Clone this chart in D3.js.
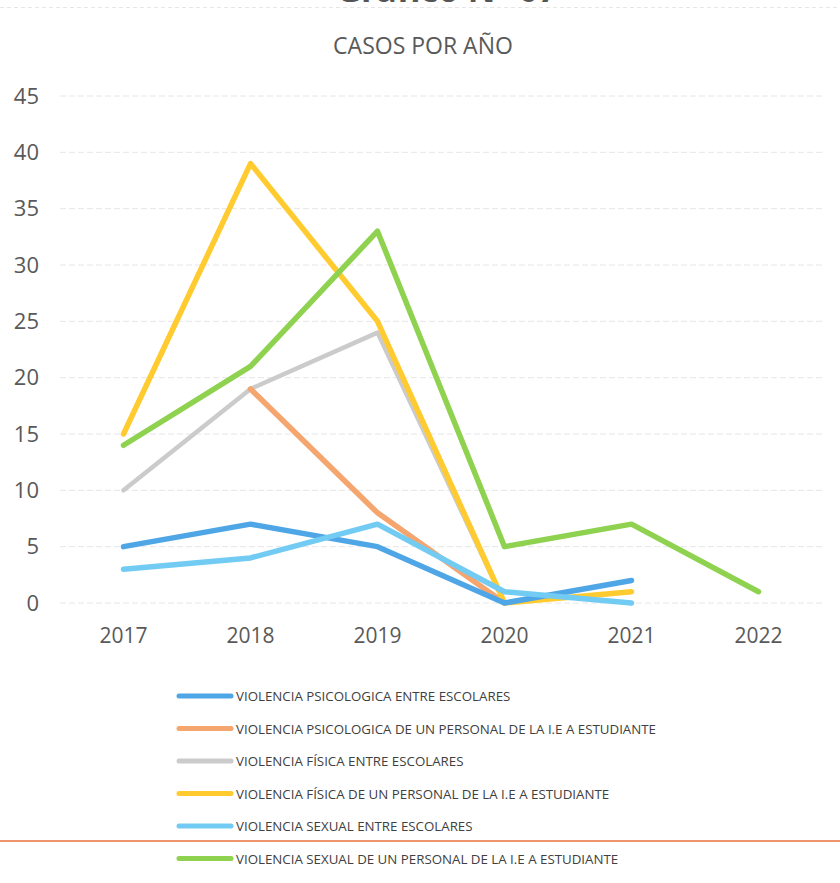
<!DOCTYPE html>
<html>
<head>
<meta charset="utf-8">
<script src="https://cdn.jsdelivr.net/npm/d3@7"></script>
<style>
  html, body { margin: 0; padding: 0; background: #fff; }
  svg { display: block; }
  text { font-family: "Open Sans", sans-serif; fill: #595959; }
</style>
</head>
<body>
<svg id="chart" width="840" height="883"></svg>
<script>
const years = ["2017", "2018", "2019", "2020", "2021", "2022"];
const yTicks = [0, 5, 10, 15, 20, 25, 30, 35, 40, 45];
const seriesNames = [
  "VIOLENCIA PSICOLOGICA ENTRE ESCOLARES",
  "VIOLENCIA PSICOLOGICA DE UN PERSONAL DE LA I.E A ESTUDIANTE",
  "VIOLENCIA FÍSICA ENTRE ESCOLARES",
  "VIOLENCIA FÍSICA DE UN PERSONAL DE LA I.E A ESTUDIANTE",
  "VIOLENCIA SEXUAL ENTRE ESCOLARES",
  "VIOLENCIA SEXUAL DE UN PERSONAL DE LA I.E A ESTUDIANTE"
];
const psicoEscolares = [5, 7, 5, 0, 2, null];
const psicoPersonal = [null, 19, 8, 0, null, null];
const fisicaEscolares = [10, 19, 24, 0, null, null];
const fisicaPersonal = [15, 39, 25, 0, 1, null];
const sexualEscolares = [3, 4, 7, 1, 0, null];
const sexualPersonal = [14, 21, 33, 5, 7, 1];
const seriesColors = ["#4FA6E6", "#F5A56E", "#CBCBCB", "#FFCB2F", "#72CBF2", "#8ED24F"];

const seriesValues = [psicoEscolares, psicoPersonal, fisicaEscolares, fisicaPersonal, sexualEscolares, sexualPersonal];
const drawOrder = [2, 1, 3, 5, 0, 4];

const svg = d3.select("#chart");
const W = 840;

// heading of the page (cut off at the top, as in the scanned page)
svg.append("text").attr("x", 447).attr("y", 2).attr("text-anchor", "middle")
  .style("font-size", "34px").style("font-weight", "bold").style("fill", "#555")
  .text("Gráfico N° 07");
svg.append("line").attr("x1", 0).attr("x2", W).attr("y1", 7.5).attr("y2", 7.5)
  .attr("stroke", "#e6e6e6").attr("stroke-width", 1).attr("stroke-dasharray", "4 3");

svg.append("text").attr("x", 423).attr("y", 54).attr("text-anchor", "middle")
  .style("font-size", "23px").text("CASOS POR AÑO");

const x = d3.scaleBand().domain(years).range([60, 822]);
const y = d3.scaleLinear().domain([0, 45]).range([603, 96]);

// gridlines
svg.append("g").selectAll("line").data(yTicks).join("line")
  .attr("x1", 60).attr("x2", 822)
  .attr("y1", d => y(d)).attr("y2", d => y(d))
  .attr("stroke", "#e6e6e6").attr("stroke-width", 1).attr("stroke-dasharray", "6 3");

// y axis
const yAxis = svg.append("g").attr("transform", "translate(39,0)")
  .call(d3.axisLeft(y).tickValues(yTicks).tickSize(0).tickPadding(0));
yAxis.select(".domain").remove();
yAxis.selectAll("text").style("font-size", "22px").style("fill", "#595959")
  .style("font-family", "'Open Sans', sans-serif");

// x axis
const xAxis = svg.append("g").attr("transform", "translate(0,628)")
  .call(d3.axisBottom(x).tickSize(0).tickPadding(0));
xAxis.select(".domain").remove();
xAxis.selectAll("text").style("font-size", "21px").style("fill", "#595959")
  .style("font-family", "'Open Sans', sans-serif");

const line = d3.line()
  .defined(d => d.v !== null)
  .x(d => x(d.year) + x.bandwidth() / 2)
  .y(d => y(d.v));

drawOrder.forEach(i => {
  const pts = years.map((yr, j) => ({ year: yr, v: seriesValues[i][j] }));
  svg.append("path").datum(pts)
    .attr("d", line)
    .attr("fill", "none")
    .attr("stroke", seriesColors[i])
    .attr("stroke-width", i === 2 ? 4.5 : 5.5)
    .attr("stroke-linejoin", "round")
    .attr("stroke-linecap", "round");
});

// legend
const legendY = [696, 728.5, 761, 793.5, 826, 858.5];
const lg = svg.append("g");
seriesNames.forEach((name, i) => {
  lg.append("line").attr("x1", 179).attr("x2", 231)
    .attr("y1", legendY[i]).attr("y2", legendY[i])
    .attr("stroke", seriesColors[i]).attr("stroke-width", 5).attr("stroke-linecap", "round");
  lg.append("text").attr("x", 236).attr("y", legendY[i] + 5)
    .style("font-size", "13.3px").style("fill", "#404040").text(name);
});

// orange rule across page
svg.append("line").attr("x1", 0).attr("x2", W).attr("y1", 841).attr("y2", 841)
  .attr("stroke", "#E8703F").attr("stroke-width", 1.5);
</script>
</body>
</html>
